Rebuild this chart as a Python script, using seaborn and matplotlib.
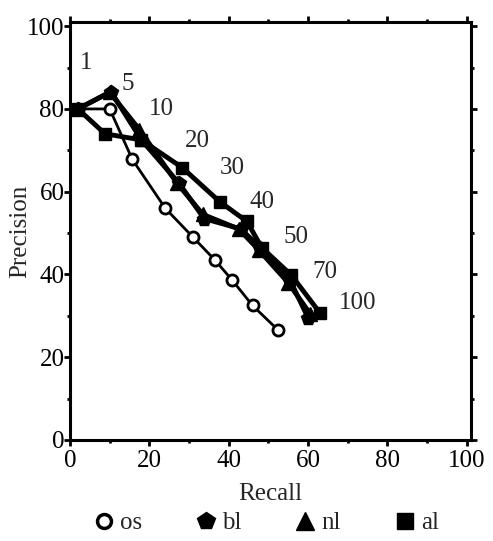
import matplotlib
matplotlib.use("Agg")
import matplotlib.pyplot as plt
import seaborn as sns
import pandas as pd
from matplotlib.lines import Line2D
from matplotlib.ticker import MultipleLocator

sns.set_theme(style="ticks")
plt.rcParams['font.family'] = ['Liberation Serif', 'DejaVu Serif']

cutoffs = ["1", "5", "10", "20", "30", "40", "50", "70", "100"]
os_recall = [2, 10, 15.7, 24, 31, 36.5, 40.8, 46, 52.5]
os_prec = [80, 80, 67.8, 56, 49, 43.5, 38.7, 32.5, 26.5]
bl_recall = [2, 10.3, 18, 27.5, 33.8, 43, 48, 55.5, 60]
bl_prec = [80, 84.2, 72.5, 62, 53.5, 51, 46.5, 38.5, 29.5]
nl_recall = [2, 10, 17.5, 27, 33.5, 42.5, 47.5, 55, 60.5]
nl_prec = [80, 84, 75, 62, 54.5, 51, 46, 38, 30.5]
al_recall = [2, 8.8, 18, 28.3, 37.7, 44.6, 48.3, 55.8, 62.9]
al_prec = [80, 74, 72.5, 65.8, 57.6, 52.8, 46.5, 39.8, 30.8]
label_x = [4.0, 14.6, 22.9, 32, 40.8, 48.3, 57, 64.2, 72.5]
label_y = [91, 86, 80, 72.2, 65.8, 57.6, 49, 40.7, 33]

fig = plt.figure(figsize=(4.93, 5.41), dpi=100)
ax = fig.add_axes([0.142, 0.1867, 0.813, 0.7726])

series = [
    ("os", os_recall, os_prec, "o", "white", 2.0, 8),
    ("bl", bl_recall, bl_prec, "p", "black", 3.5, 10),
    ("nl", nl_recall, nl_prec, "^", "black", 3.5, 10),
    ("al", al_recall, al_prec, "s", "black", 3.5, 9),
]
for name, xs, ys, mk, fc, lw, ms in series:
    df = pd.DataFrame({"Recall": xs, "Precision": ys})
    sns.lineplot(data=df, x="Recall", y="Precision", sort=False, ax=ax,
                 color="black", linewidth=lw, marker=mk, markersize=ms,
                 markerfacecolor=fc, markeredgecolor="black",
                 markeredgewidth=2 if name == "os" else 1, zorder=3)

for t, lx, ly in zip(cutoffs, label_x, label_y):
    ax.text(lx, ly, t, fontsize=18, ha="center", va="center")

ax.set_xlim(0, 101)
ax.set_ylim(0, 101)
ax.xaxis.set_major_locator(MultipleLocator(20))
ax.xaxis.set_minor_locator(MultipleLocator(10))
ax.yaxis.set_major_locator(MultipleLocator(20))
ax.yaxis.set_minor_locator(MultipleLocator(10))
ax.tick_params(which="both", direction="out", top=True, right=True,
               labeltop=False, labelright=False, width=2, colors="black")
ax.tick_params(which="major", length=4, labelsize=18)
ax.tick_params(axis="x", which="major", pad=3)
ax.tick_params(axis="y", which="major", pad=0)
ax.tick_params(which="minor", length=2.5)
for s in ax.spines.values():
    s.set_visible(True)
    s.set_linewidth(2.2)
    s.set_color("black")
ax.set_xlabel("Recall", fontsize=18, labelpad=8)
ax.set_ylabel("Precision", fontsize=18, labelpad=-3)

handles = [
    Line2D([], [], linestyle="none", marker="o", markersize=10, markerfacecolor="white",
           markeredgecolor="black", markeredgewidth=2.5),
    Line2D([], [], linestyle="none", marker="p", markersize=13, color="black"),
    Line2D([], [], linestyle="none", marker="^", markersize=13, color="black"),
    Line2D([], [], linestyle="none", marker="s", markersize=12, color="black"),
]
fig.legend(handles, ["os", "bl", "nl", "al"], loc="center", bbox_to_anchor=(0.54, 0.033),
           ncol=4, frameon=False, fontsize=18, handletextpad=0.25, columnspacing=2.15,
           handlelength=0.8)

fig.savefig("out.png", dpi=100)
